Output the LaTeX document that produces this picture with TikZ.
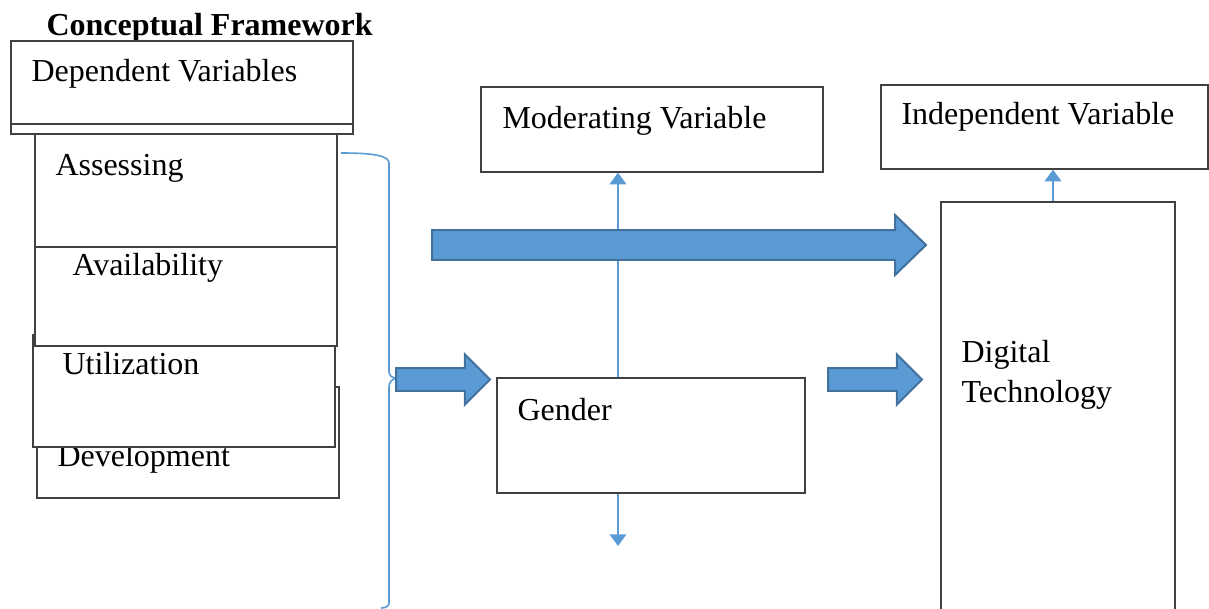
\documentclass[tikz,border=0pt]{standalone}
\usepackage{fontspec}
\setmainfont{Liberation Serif}
\usetikzlibrary{fit,arrows.meta}
\definecolor{flowblue}{HTML}{5B9BD5}
\definecolor{flowedge}{HTML}{41719C}
\definecolor{boxgray}{HTML}{404040}
\begin{document}
\begin{tikzpicture}[x=0.375pt,y=-0.375pt,
	box/.style={draw=boxgray,line width=0.5pt,fill=white,inner sep=0pt},
	txt/.style={anchor=base west,inner sep=0pt,font=\fontsize{12}{15}\selectfont},
	link/.style={draw=flowblue,line width=0.6pt,-{Triangle[width=6.3pt,length=4.4pt]}},
	bigarrow/.style n args={3}{draw=flowedge,fill=flowblue,line width=0.75pt,
		to path={([yshift=#1]\tikztostart) -- ([xshift=-#3,yshift=#1]\tikztotarget) -- ([xshift=-#3,yshift=#2]\tikztotarget) -- (\tikztotarget) -- ([xshift=-#3,yshift=-#2]\tikztotarget) -- ([xshift=-#3,yshift=-#1]\tikztotarget) -- ([yshift=-#1]\tikztostart) -- cycle}}]
			\useasboundingbox (0,0) rectangle (1209,609);
			\node[txt,font=\fontsize{12}{15}\selectfont\bfseries] (title) at (46,36) {Conceptual Framework};
			\node[box,fit={(37,387) (339,498)}] (dev) {};
			\node[txt] at (57,466) {Development};
			\node[box,fit={(33,335) (335,447)}] (uti) {};
			\node[txt] at (62,375) {Utilization};
			\node[box,fit={(35,247) (337,346)}] (ava) {};
			\node[txt] at (72,276) {Availability};
			\node[box,fit={(35,134) (337,247)}] (ass) {};
			\node[txt] at (55,176) {Assessing};
			\node[box,fit={(11,41) (353,124)}] (dep) {};
			\node[box,fit={(11,124) (353,134)}] (strip) {};
			\node[txt] at (31,82) {Dependent Variables};
			\node[box,fit={(481,87) (823,172)}] (mod) {};
			\node[txt] at (502,129) {Moderating Variable};
			\node[box,fit={(881,85) (1208,169)}] (ind) {};
			\node[txt] at (901,125) {Independent Variable};
			\node[box,fit={(497,378) (805,493)}] (gen) {};
			\node[txt] at (517,420) {Gender};
			\node[box,fit={(941,202) (1175,640)}] (dig) {};
			\node[txt,text width=150pt,align=left] at (961,363) {Digital\\Technology};
			\coordinate (mx) at (618,0);
			\coordinate (gd) at (618,546);
			\coordinate (dx) at (1053,0);
			\draw[link] (gen.north -| mx) -- (mod.south -| mx);
			\draw[link] (gen.south -| gd) -- (gd);
			\draw[link] (dig.north -| dx) -- (ind.south -| dx);
			\draw[flowblue,line width=0.6pt] (341,153) .. controls (375,153) and (389,156) .. (389,163) -- (389,371) .. controls (389,376) and (392,378) .. (397,378) .. controls (392,379) and (389,382) .. (389,387) -- (389,603) .. controls (389,606) and (386,608) .. (381,608);
			\coordinate (a1) at (432,245);
			\coordinate (b1) at (926,245);
			\coordinate (a2) at (396,379.5);
			\coordinate (b2) at (490,379.5);
			\coordinate (a3) at (828,379.5);
			\coordinate (b3) at (922,379.5);
			\draw[bigarrow={5.6pt}{11.25pt}{11.6pt}] (a1) to (b1);
			\draw[bigarrow={4.3pt}{9.4pt}{9.4pt}] (a2) to (b2);
			\draw[bigarrow={4.3pt}{9.4pt}{9.4pt}] (a3) to (b3);
		\end{tikzpicture}
\end{document}
